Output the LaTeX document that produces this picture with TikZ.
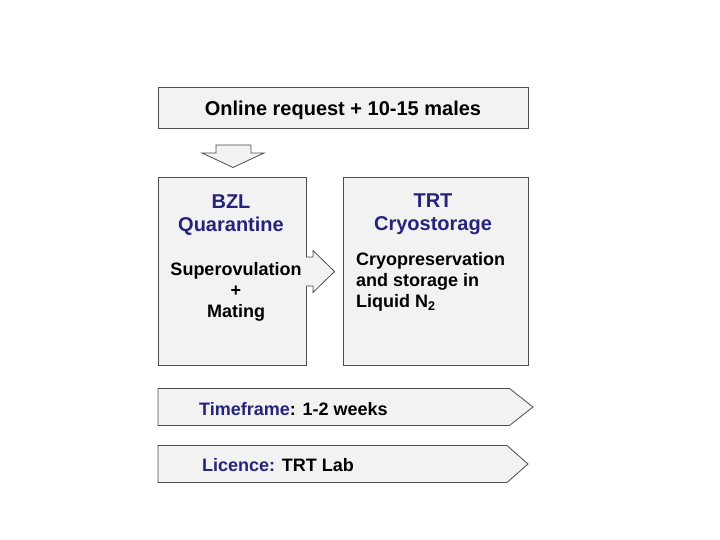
\documentclass[tikz,border=0pt]{standalone}
\usepackage{fontspec}
\setmainfont{Liberation Sans}
\definecolor{boxfill}{HTML}{F2F2F2}
\definecolor{boxline}{HTML}{4D4D4D}
\definecolor{navy}{HTML}{25237A}
\tikzset{
  box/.style={draw=boxline, fill=boxfill, line width=0.8pt, inner sep=0pt},
  shp/.style={draw=boxline, fill=boxfill, line width=0.8pt, line join=miter},
  big/.style={font=\bfseries\fontsize{20}{23}\selectfont},
  mid/.style={font=\bfseries\fontsize{18}{21}\selectfont},
}
\begin{document}
\begin{tikzpicture}[x=1pt,y=-1pt]
\useasboundingbox (0,0) rectangle (720,540);
% top box
\node[box, minimum width=370pt, minimum height=41pt] (top) at (343,107.5) {};
\node[big, inner sep=0pt] (topt) at (343,110) {Online request + 10-15 males};
% down arrow
\draw[shp] (216,145) -- (251,145) -- (251,153) -- (264,153) -- (233,167.5) -- (202,153) -- (216,153) -- cycle;
% left and right boxes
\node[box, minimum width=148pt, minimum height=188pt] (bzl) at (232,271) {};
\node[box, minimum width=185pt, minimum height=188pt] (trt) at (435.5,271) {};
% right arrow (drawn over the left box edge)
\filldraw[shp] (306,257) -- (313,257) -- (313,250.5) -- (334.5,271.5) -- (313,292.5) -- (313,286) -- (306,286);
% texts in boxes
\node[big, text=navy, align=center, inner sep=0pt] (bzlt) at (231,215.5) {BZL\\Quarantine};
\node[mid, align=center, inner sep=0pt] (bzlm) at (236,291.5) {Superovulation\\+\\Mating};
\node[big, text=navy, align=center, inner sep=0pt] (trtt) at (433,214) {TRT\\Cryostorage};
\node[mid, align=left, inner sep=0pt, anchor=north west] (trtm) at (356,252) {Cryopreservation\\and storage in\\Liquid N\textsubscript{2}};
% bottom pentagons
\draw[shp] (158,388.5) -- (509.5,388.5) -- (533,407) -- (509.5,425.5) -- (158,425.5) -- cycle;
\node[mid, anchor=west, inner sep=0pt] (tf) at (199,409.5) {\textcolor{navy}{Timeframe}: 1-2 weeks};
\draw[shp] (158,445.5) -- (507,445.5) -- (528,464) -- (507,482.5) -- (158,482.5) -- cycle;
\node[mid, anchor=west, inner sep=0pt] (lic) at (202,465) {\textcolor{navy}{Licence:} TRT Lab};
\end{tikzpicture}
\end{document}
